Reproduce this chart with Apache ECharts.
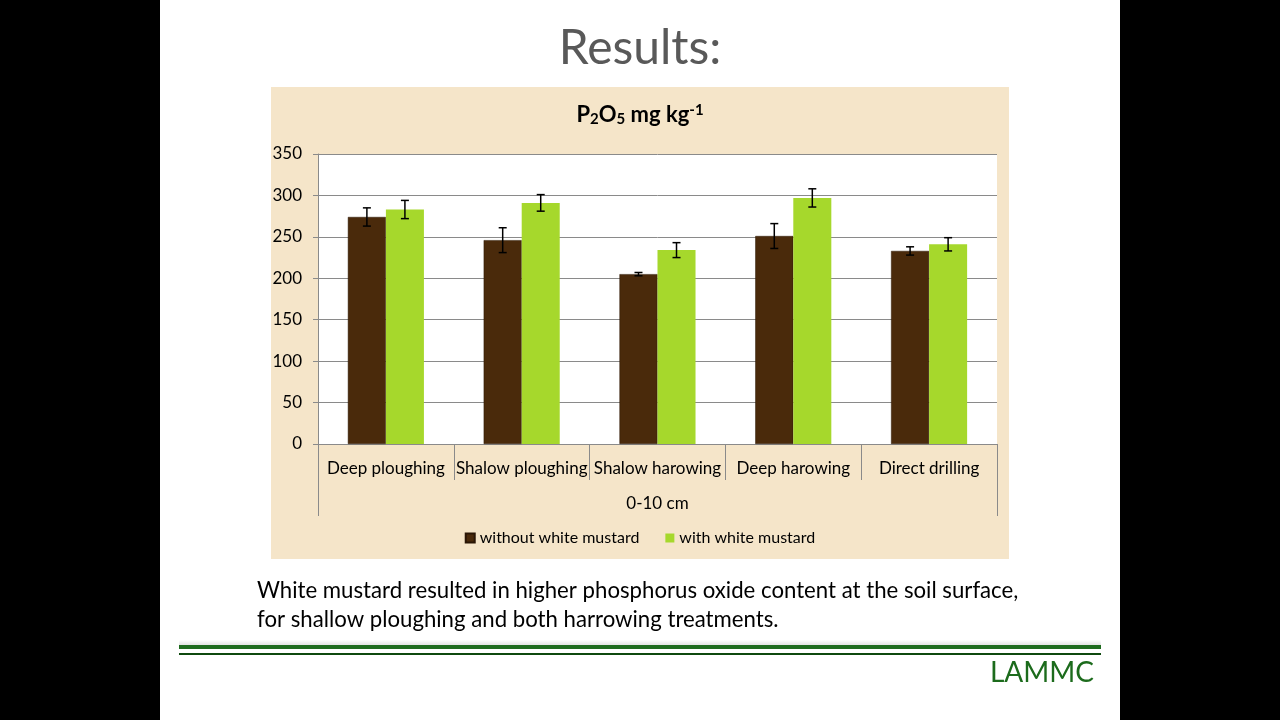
<!DOCTYPE html>
<html>
<head>
<meta charset="utf-8">
<script src="https://cdn.jsdelivr.net/npm/echarts@6/dist/echarts.min.js"></script>
<style>
  body { margin: 0; background: #000; }
  #slide { position: absolute; left: 160px; top: 0; width: 960px; height: 720px; background: #fff; }
  #box { position: absolute; left: 271px; top: 87px; width: 738px; height: 472px; background: #f5e5c9; }
  #shade { position: absolute; left: 179px; top: 640px; width: 922px; height: 6px;
           background: linear-gradient(to bottom, rgba(210,210,210,0), rgba(180,180,180,0.45)); }
  #chart { position: absolute; left: 0; top: 0; width: 1280px; height: 720px; }
</style>
</head>
<body>
<div id="slide"></div>
<div id="box"></div>
<div id="shade"></div>
<div id="chart"></div>
<script>
const categories = ["Deep ploughing", "Shalow ploughing", "Shalow harowing", "Deep harowing", "Direct drilling"];
const groupLabel = ["0-10 cm"];
const withoutMustard = [274, 246, 205, 251, 233];
const withoutErr = [11, 15, 2, 15, 5];
const withMustard = [283, 291, 234, 297, 241];
const withErr = [11, 10, 9, 11, 8];
const seriesNames = ["without white mustard", "with white mustard"];

const FONT = "Lato";

const errData = function (vals, errs) {
  return vals.map((v, i) => [i, v - errs[i], v + errs[i]]);
};

// draws the whisker at the left or right bar of each category
const errorBars = function (side) {
  return function (params, api) {
    const x = api.value(0);
    const lo = api.coord([x, api.value(1)]);
    const hi = api.coord([x, api.value(2)]);
    const w = api.size([1, 0])[0];
    const cx = lo[0] + side * w * 0.14;
    const cap = 4;
    const style = { stroke: "#000", lineWidth: 1.5 };
    return {
      type: "group",
      children: [
        { type: "line", shape: { x1: cx, y1: hi[1], x2: cx, y2: lo[1] }, style: style },
        { type: "line", shape: { x1: cx - cap, y1: hi[1], x2: cx + cap, y2: hi[1] }, style: style },
        { type: "line", shape: { x1: cx - cap, y1: lo[1], x2: cx + cap, y2: lo[1] }, style: style },
      ],
    };
  };
};

const chart = echarts.init(document.getElementById("chart"));
chart.setOption({
  animation: false,
  textStyle: { fontFamily: FONT },
  graphic: [
    {
      type: "text", left: "center", top: 25,
      style: { text: "Results:", fontSize: 48, fill: "#595959", fontFamily: FONT },
    },
    {
      type: "text", left: "center", top: 103,
      style: {
        text: "P{s|2}O{s|5} mg kg{p|-1}",
        fontSize: 22, fontWeight: "bold", fill: "#000", fontFamily: FONT,
        rich: {
          s: { fontSize: 15, fontWeight: "bold", verticalAlign: "bottom", padding: [9, 0, 0, 0], fontFamily: FONT },
          p: { fontSize: 15, fontWeight: "bold", verticalAlign: "top", padding: [0, 0, 9, 0], fontFamily: FONT },
        },
      },
    },
    {
      type: "text", left: 257, top: 576,
      style: {
        text: "White mustard resulted in higher phosphorus oxide content at the soil surface,\nfor shallow ploughing and both harrowing treatments.",
        fontSize: 22.2, lineHeight: 29, fill: "#000", fontFamily: FONT,
      },
    },
    { type: "rect", shape: { x: 179, y: 645, width: 922, height: 4 }, style: { fill: "#1e6b1e" } },
    { type: "rect", shape: { x: 179, y: 653, width: 922, height: 2 }, style: { fill: "#0f4a0f" } },
    {
      type: "text", right: 1280 - 1094, top: 659,
      style: { text: "LAMMC", fontSize: 28, fill: "#1c6b1c", fontFamily: FONT },
    },
  ],
  legend: {
    data: seriesNames,
    top: 525,
    left: "center",
    icon: "rect",
    itemWidth: 9,
    itemHeight: 9,
    itemGap: 26,
    textStyle: { fontSize: 16, color: "#000", fontFamily: FONT },
  },
  grid: {
    left: 318, right: 1280 - 997, top: 154, bottom: 720 - 444,
    show: true, backgroundColor: "#fff", borderWidth: 0,
  },
  xAxis: [
    {
      type: "category",
      data: categories,
      axisLine: { lineStyle: { color: "#8a8a8a" } },
      axisTick: { show: true, interval: 0, alignWithLabel: false, length: 36, lineStyle: { color: "#8a8a8a" } },
      axisLabel: { color: "#000", fontSize: 17, margin: 16, interval: 0, fontFamily: FONT },
    },
    {
      type: "category",
      data: groupLabel,
      position: "bottom",
      axisLine: { show: false },
      axisTick: { show: true, interval: 0, alignWithLabel: false, length: 72, lineStyle: { color: "#8a8a8a" } },
      axisLabel: { color: "#000", fontSize: 17, margin: 51, fontFamily: FONT },
    },
  ],
  yAxis: {
    type: "value",
    min: 0,
    max: 350,
    interval: 50,
    axisLine: { show: true, lineStyle: { color: "#8a8a8a" } },
    axisTick: { show: true, length: 5, lineStyle: { color: "#8a8a8a" } },
    axisLabel: { color: "#000", fontSize: 17, margin: 16, fontFamily: FONT },
    splitLine: { lineStyle: { color: "#8a8a8a", width: 1 } },
  },
  series: [
    {
      name: seriesNames[0], type: "bar", data: withoutMustard,
      barWidth: "28%", barGap: "0%",
      itemStyle: { color: "#4a2a0b", borderColor: "#2a1605", borderWidth: 0.5 },
    },
    {
      name: seriesNames[1], type: "bar", data: withMustard,
      barWidth: "28%", barGap: "0%",
      itemStyle: { color: "#a6d82c" },
    },
    {
      type: "custom", renderItem: errorBars(-1), data: errData(withoutMustard, withoutErr),
      encode: { x: 0, y: [1, 2] }, z: 5, silent: true,
    },
    {
      type: "custom", renderItem: errorBars(1), data: errData(withMustard, withErr),
      encode: { x: 0, y: [1, 2] }, z: 5, silent: true,
    },
  ],
});
</script>
</body>
</html>
